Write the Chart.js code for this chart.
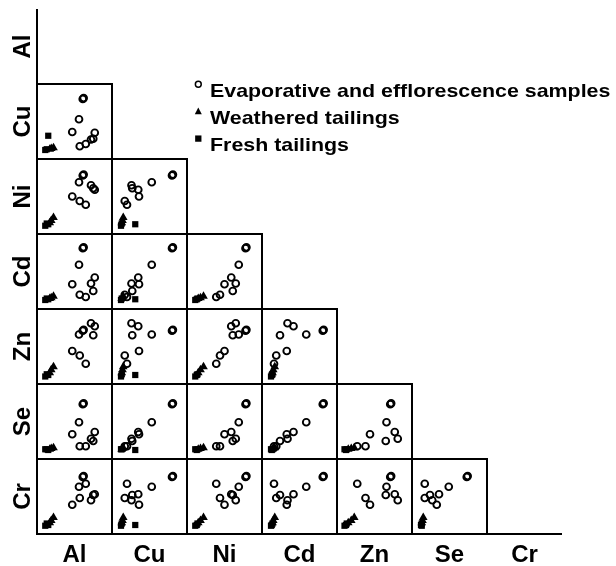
<!DOCTYPE html>
<html>
<head>
<meta charset="utf-8">
<script src="https://cdn.jsdelivr.net/npm/chart.js@4.4.1/dist/chart.umd.min.js"></script>
<style>
  html, body { margin: 0; padding: 0; background: #fff; }
  #wrap { position: relative; width: 616px; height: 566px; overflow: hidden; background: #fff; }
  #wrap canvas { position: absolute; }
</style>
</head>
<body>
<div id="wrap"><canvas id="frame" width="616" height="566" style="left:0;top:0"></canvas></div>
<script>
// Elements of the scatterplot matrix (row / column order)
const elements = ['Al', 'Cu', 'Ni', 'Cd', 'Zn', 'Se', 'Cr'];
const seriesNames = ['Evaporative and efflorescence samples', 'Weathered tailings', 'Fresh tailings'];

// Relative concentration of each element (0-100 of its plotted range)
// Evaporative and efflorescence samples
const evapAl = [61, 62.2, 56, 47, 57, 65, 72, 77, 75];
const evapCu = [80, 81.2, 53, 36, 17, 20, 26, 35, 27];
const evapNi = [78, 79.2, 69, 50, 44, 39, 65, 59, 61];
const evapCd = [81, 82.2, 59, 33, 19, 16, 34, 42, 24];
const evapZn = [71, 72.2, 66, 44, 38, 27, 81, 77, 65];
const evapSe = [73, 74.2, 49, 33, 17, 17, 27, 36, 24];
const evapCr = [76, 77.2, 63, 39, 48, 67, 45, 53, 52];

// Weathered tailings
const weathAl = [19, 22, 17];
const weathCu = [14, 15, 13];
const weathNi = [18, 22, 15];
const weathCd = [15, 17, 14];
const weathZn = [19, 23, 15];
const weathSe = [14, 15, 13];
const weathCr = [18, 22, 15];

// Fresh tailings
const freshAl = [11, 13, 15];
const freshCu = [12, 13, 31];
const freshNi = [11, 14, 13];
const freshCd = [12, 14, 13];
const freshZn = [10, 13, 12];
const freshSe = [13, 13, 12];
const freshCr = [11, 14, 12];

const series = [
  { name: seriesNames[0], style: 'circle', radius: 3.4, border: 1.9, fill: 'rgba(0,0,0,0)',
    values: { Al: evapAl, Cu: evapCu, Ni: evapNi, Cd: evapCd, Zn: evapZn, Se: evapSe, Cr: evapCr } },
  { name: seriesNames[1], style: 'triangle', radius: 5, border: 0, fill: '#000',
    values: { Al: weathAl, Cu: weathCu, Ni: weathNi, Cd: weathCd, Zn: weathZn, Se: weathSe, Cr: weathCr } },
  { name: seriesNames[2], style: 'rect', radius: 4.4, border: 0, fill: '#000',
    values: { Al: freshAl, Cu: freshCu, Ni: freshNi, Cd: freshCd, Zn: freshZn, Se: freshSe, Cr: freshCr } }
];

// Grid geometry
const X0 = 37;      // left edge of first column
const Y0 = 84;      // top edge of the Cu row
const CELL = 75;
const N = elements.length;
const FONT = '"Liberation Sans", Arial, Helvetica, sans-serif';

// Draws a legend marker in the same style as the points
function drawMarker(ctx, style, x, y, size) {
  ctx.save();
  ctx.fillStyle = '#000';
  ctx.strokeStyle = '#000';
  ctx.beginPath();
  if (style === 'circle') {
    ctx.lineWidth = 1.5;
    ctx.arc(x, y, size * 0.42, 0, Math.PI * 2);
    ctx.stroke();
  } else if (style === 'triangle') {
    ctx.moveTo(x, y - size * 0.55);
    ctx.lineTo(x + size * 0.5, y + size * 0.4);
    ctx.lineTo(x - size * 0.5, y + size * 0.4);
    ctx.closePath();
    ctx.fill();
  } else {
    ctx.rect(x - size * 0.45, y - size * 0.45, size * 0.9, size * 0.9);
    ctx.fill();
  }
  ctx.restore();
}

// Axis lines, element labels and the legend
const frameDecor = {
  id: 'frameDecor',
  afterDraw(chart) {
    const ctx = chart.ctx;
    const bottom = Y0 + CELL * (N - 1);
    ctx.save();
    ctx.strokeStyle = '#000';
    ctx.lineWidth = 2;
    ctx.beginPath();
    ctx.moveTo(X0, 9);
    ctx.lineTo(X0, bottom);
    ctx.lineTo(X0 + CELL * N, bottom);
    ctx.stroke();

    ctx.fillStyle = '#000';
    ctx.font = 'bold 24px ' + FONT;
    ctx.textAlign = 'center';
    ctx.textBaseline = 'alphabetic';
    elements.forEach((el, i) => {
      ctx.fillText(el, X0 + CELL * i + CELL / 2, 562);
    });
    elements.forEach((el, i) => {
      const cy = Y0 + CELL * (i - 1) + CELL / 2;
      ctx.save();
      ctx.translate(30, cy);
      ctx.rotate(-Math.PI / 2);
      ctx.fillText(el, 0, 0);
      ctx.restore();
    });

    // legend
    ctx.textAlign = 'left';
    ctx.font = 'bold 19px ' + FONT;
    chart.data.datasets.forEach((ds, i) => {
      const base = 96.7 + i * 27.2;
      drawMarker(ctx, ds.pointStyle, 198.3, base - 12.5, 7);
      ctx.save();
      ctx.translate(210, base);
      ctx.scale(1.125, 1);
      ctx.fillText(ds.label, 0, 0);
      ctx.restore();
    });
    ctx.restore();
  }
};

new Chart(document.getElementById('frame'), {
  type: 'scatter',
  data: { datasets: series.map(s => ({ label: s.name, pointStyle: s.style, data: [] })) },
  options: {
    responsive: false, animation: false, events: [],
    layout: { autoPadding: false },
    scales: { x: { display: false, min: 0, max: 1 }, y: { display: false, min: 0, max: 1 } },
    plugins: { legend: { display: false }, tooltip: { enabled: false } }
  },
  plugins: [frameDecor]
});

// Panel outline
const panelBorder = {
  id: 'panelBorder',
  afterDraw(chart) {
    const a = chart.chartArea, ctx = chart.ctx;
    ctx.save();
    ctx.strokeStyle = '#000';
    ctx.lineWidth = 2;
    ctx.strokeRect(a.left, a.top, a.right - a.left, a.bottom - a.top);
    ctx.restore();
  }
};

const wrap = document.getElementById('wrap');
for (let r = 1; r < N; r++) {
  for (let c = 0; c < r; c++) {
    const cv = document.createElement('canvas');
    cv.width = CELL + 2;
    cv.height = CELL + 2;
    cv.style.left = (X0 + CELL * c - 1) + 'px';
    cv.style.top = (Y0 + CELL * (r - 1) - 1) + 'px';
    wrap.appendChild(cv);
    const xe = elements[c], ye = elements[r];
    new Chart(cv, {
      type: 'scatter',
      data: {
        datasets: series.map(s => ({
          label: s.name,
          data: s.values[xe].map((v, i) => ({ x: v, y: s.values[ye][i] })),
          pointStyle: s.style,
          pointRadius: s.radius,
          pointBorderWidth: s.border,
          pointBorderColor: '#000',
          pointBackgroundColor: s.fill,
          showLine: false
        }))
      },
      options: {
        responsive: false, animation: false, events: [],
        layout: { padding: 1, autoPadding: false },
        scales: {
          x: { type: 'linear', min: 0, max: 100, display: false },
          y: { type: 'linear', min: 0, max: 100, display: false }
        },
        plugins: { legend: { display: false }, tooltip: { enabled: false } }
      },
      plugins: [panelBorder]
    });
  }
}
</script>
</body>
</html>
